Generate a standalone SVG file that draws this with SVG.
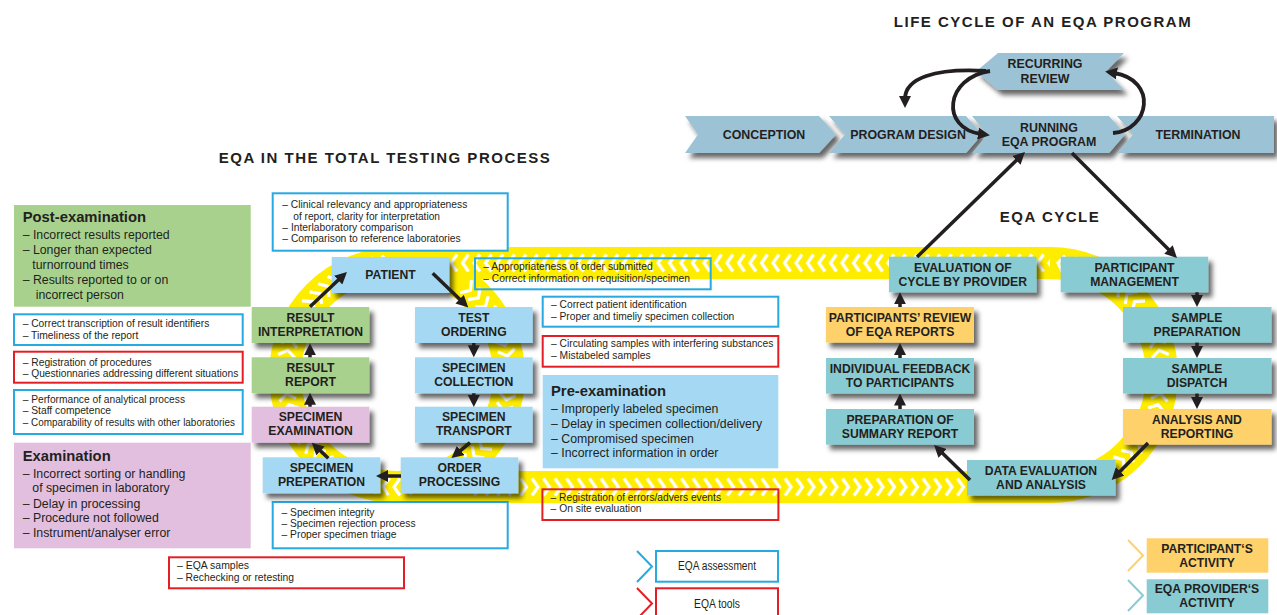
<svg xmlns="http://www.w3.org/2000/svg" width="1277" height="615" viewBox="0 0 1277 615">
<defs>
<style>
text{font-family:"Liberation Sans",Arial,sans-serif;fill:#231f20}
.t{font-weight:bold;font-size:15px;letter-spacing:1.5px;text-anchor:middle}
.l{font-weight:bold;font-size:12.2px;text-anchor:middle}
.h{font-weight:bold;font-size:14.8px}
.i{font-size:12.3px}
.n{font-size:11.4px}
.lg{font-size:12px;text-anchor:middle}
.sh{filter:url(#sh)}
.stl{fill:#9cc2d6}
.itp{fill:#a5d9f3}
.grn{fill:#a9d18e}
.pnk{fill:#e2bfdf}
.tel{fill:#89cbd3}
.org{fill:#fed16b}
.bb{fill:#fff;stroke:#27a9e1;stroke-width:2}
.rb{fill:#fff;stroke:#e31e24;stroke-width:2}
.nf{fill:none}
.ar{fill:none;stroke:#231f20;stroke-width:3.5;marker-end:url(#ah)}
.band{fill:none;stroke:#ffed00;stroke-width:32}
.chev{fill:none;stroke:none;marker-start:url(#chv);marker-mid:url(#chv);marker-end:url(#chv)}
.lgc{fill:none;stroke-width:2}
</style>
<filter id="sh" x="-10%" y="-15%" width="130%" height="160%">
<feDropShadow dx="4" dy="5" stdDeviation="2.5" flood-color="#000" flood-opacity="0.6"/>
</filter>
<marker id="ah" viewBox="0 0 12 12" markerWidth="12" markerHeight="12" markerUnits="userSpaceOnUse" refX="3" refY="6" orient="auto">
<path d="M0 0 L12 6 L0 12 z" fill="#231f20"/>
</marker>
<marker id="chv" viewBox="-6 -10 12 20" markerWidth="12" markerHeight="20" markerUnits="userSpaceOnUse" refX="0" refY="0" orient="auto">
<path d="M-3 -8.5 L3 0 L-3 8.5" fill="none" stroke="#fff" stroke-width="3.2"/>
</marker>
<pattern id="chl" x="0" y="247" width="11.5" height="32" patternUnits="userSpaceOnUse">
<path d="M8.5 7.5 L2.5 16 L8.5 24.5" fill="none" stroke="#fff" stroke-width="3.2"/>
</pattern>
<pattern id="chr" x="0" y="471" width="11.5" height="32" patternUnits="userSpaceOnUse">
<path d="M3 7.5 L9 16 L3 24.5" fill="none" stroke="#fff" stroke-width="3.2"/>
</pattern>
</defs>
<rect width="1277" height="615" fill="#fff"/>

<!-- yellow track -->
<g id="track">
<circle class="band" cx="397" cy="375" r="112"/>
<path class="band" d="M1050 263 A112 112 0 0 1 1050 487"/>
<rect x="397" y="247" width="653" height="32" fill="#ffed00"/>
<rect x="397" y="471" width="653" height="32" fill="#ffed00"/>
<rect x="450" y="247" width="600" height="32" fill="url(#chl)"/>
<rect x="470" y="471" width="580" height="32" fill="url(#chr)"/>
<polyline class="chev" points="468.05,288.42 476.2,295.8 483.58,303.95 490.13,312.77 495.77,322.2 500.48,332.14 504.17,342.49 506.85,353.15 508.46,364.02 509,375 508.46,385.98 506.85,396.85 504.17,407.51 500.48,417.86 495.77,427.8 490.13,437.23 483.58,446.05 476.2,454.2 468.05,461.58 459.23,468.13 449.8,473.77 439.86,478.48 429.51,482.17 418.85,484.85 407.98,486.46 397,487 386.02,486.46 375.15,484.85 364.49,482.17 354.14,478.48 344.2,473.77 334.77,468.13 325.95,461.58 317.8,454.2 310.42,446.05 303.87,437.23 298.23,427.8 293.52,417.86 289.83,407.51 287.15,396.85 285.54,385.98 285,375 285.54,364.02 287.15,353.15 289.83,342.49 293.52,332.14 298.23,322.2 303.87,312.77 310.42,303.95 317.8,295.8 325.95,288.42 334.77,281.87 344.2,276.23 354.14,271.52 364.49,267.83 375.15,265.15 386.02,263.54"/>
<polyline class="chev" points="1060.98,486.46 1071.85,484.85 1082.51,482.17 1092.86,478.48 1102.8,473.77 1112.23,468.13 1121.05,461.58 1129.2,454.2 1136.58,446.05 1143.13,437.23 1148.77,427.8 1153.48,417.86 1157.17,407.51 1159.85,396.85 1161.46,385.98 1162,375 1161.46,364.02 1159.85,353.15 1157.17,342.49 1153.48,332.14 1148.77,322.2 1143.13,312.77 1136.58,303.95 1129.2,295.8 1121.05,288.42 1112.23,281.87 1102.8,276.23 1092.86,271.52 1082.51,267.83 1071.85,265.15 1060.98,263.54"/>
</g>

<!-- titles -->
<text class="t" x="1043" y="27">LIFE CYCLE OF AN EQA PROGRAM</text>
<text class="t" x="385" y="163">EQA IN THE TOTAL TESTING PROCESS</text>
<text class="t" x="1050" y="222">EQA CYCLE</text>

<!-- life cycle -->
<g id="conception"><polygon class="stl sh" points="685,116 819,116 836,134.5 819,153 685,153 698,134.5"/><text class="l" style="font-size:12.4px" x="764" y="139">CONCEPTION</text></g>
<g id="program-design"><polygon class="stl sh" points="829,116 966,116 982,134.5 966,153 829,153 845,134.5"/><text class="l" style="font-size:12.4px" x="908" y="139">PROGRAM DESIGN</text></g>
<g id="running"><polygon class="stl sh" points="972,116 1109,116 1125,134.5 1109,153 972,153 987,134.5"/><text class="l" style="font-size:12.4px" x="1049" y="131.5">RUNNING</text><text class="l" style="font-size:12.4px" x="1049" y="146">EQA PROGRAM</text></g>
<g id="termination"><polygon class="stl sh" points="1117,116 1274,116 1274,153 1117,153 1133,134.5"/><text class="l" style="font-size:12.4px" x="1198" y="139">TERMINATION</text></g>
<g id="recurring-review"><polygon class="stl sh" points="998,53 1124,53 1106,71.5 1124,90 998,90 976,71.5"/><text class="l" style="font-size:12.4px" x="1045" y="68">RECURRING</text><text class="l" style="font-size:12.4px" x="1045" y="83">REVIEW</text></g>

<!-- left info -->
<g id="post-examination"><rect class="grn" x="14" y="205" width="236.7" height="101.7"/>
<text class="h" x="22.7" y="221.7">Post-examination</text>
<text class="i" x="22.7" y="239">– Incorrect results reported</text>
<text class="i" x="22.7" y="254.3">– Longer than expected</text>
<text class="i" x="32.3" y="269">turnorround times</text>
<text class="i" x="22.7" y="284">– Results reported to or on</text>
<text class="i" x="35.7" y="299">incorrect person</text></g>
<g id="assess-post"><rect class="bb" x="14" y="314.3" width="228.7" height="30.7"/>
<text class="n" x="22.7" y="327.3" textLength="186.6" lengthAdjust="spacingAndGlyphs">– Correct transcription of result identifiers</text>
<text class="n" x="22.7" y="339" textLength="115.6" lengthAdjust="spacingAndGlyphs">– Timeliness of the report</text></g>
<g id="tools-post"><rect class="rb" x="14" y="351.7" width="228.7" height="31"/>
<text class="n" x="22.7" y="365.7" textLength="129" lengthAdjust="spacingAndGlyphs">– Registration of procedures</text>
<text class="n" x="22.7" y="376.7" textLength="215.6" lengthAdjust="spacingAndGlyphs">– Questionnaries addressing different situations</text></g>
<g id="assess-exam"><rect class="bb" x="14" y="390" width="228.7" height="44"/>
<text class="n" x="22.7" y="402.7" textLength="162.3" lengthAdjust="spacingAndGlyphs">– Performance of analytical process</text>
<text class="n" x="22.7" y="414.3" textLength="88.3" lengthAdjust="spacingAndGlyphs">– Staff competence</text>
<text class="n" x="22.7" y="426" textLength="212.3" lengthAdjust="spacingAndGlyphs">– Comparability of results with other laboratories</text></g>
<g id="examination"><rect class="pnk" x="14" y="442.7" width="236.7" height="105.6"/>
<text class="h" x="22.7" y="460.7">Examination</text>
<text class="i" x="22.7" y="477.7">– Incorrect sorting or handling</text>
<text class="i" x="32.3" y="492.3">of specimen in laboratory</text>
<text class="i" x="22.7" y="507.7">– Delay in processing</text>
<text class="i" x="22.7" y="522.3">– Procedure not followed</text>
<text class="i" x="22.7" y="537.3">– Instrument/analyser error</text></g>

<!-- center info -->
<g id="assess-patient"><rect class="bb" x="272.7" y="193.3" width="235" height="57.4"/>
<text class="n" x="282.3" y="208.3" textLength="185" lengthAdjust="spacingAndGlyphs">– Clinical relevancy and appropriateness</text>
<text class="n" x="293.3" y="219.5" textLength="146.7" lengthAdjust="spacingAndGlyphs">of report, clarity for interpretation</text>
<text class="n" x="282.3" y="230.8" textLength="131" lengthAdjust="spacingAndGlyphs">– Interlaboratory comparison</text>
<text class="n" x="282.3" y="242.3" textLength="178.4" lengthAdjust="spacingAndGlyphs">– Comparison to reference laboratories</text></g>
<g id="assess-order"><rect class="bb nf" x="475" y="258.3" width="235.7" height="31"/>
<text class="n" x="483.3" y="270" textLength="169.4" lengthAdjust="spacingAndGlyphs">– Appropriateness of order submitted</text>
<text class="n" x="483.3" y="281.7" textLength="206.7" lengthAdjust="spacingAndGlyphs">– Correct information on requisition/specimen</text></g>
<g id="assess-collection"><rect class="bb" x="542.7" y="296.7" width="235.6" height="30"/>
<text class="n" x="551" y="308.3" textLength="135.7" lengthAdjust="spacingAndGlyphs">– Correct patient identification</text>
<text class="n" x="551" y="320" textLength="183.3" lengthAdjust="spacingAndGlyphs">– Proper and timeliy specimen collection</text></g>
<g id="tools-collection"><rect class="rb" x="542.7" y="336" width="235.6" height="30.7"/>
<text class="n" x="551" y="347.3" textLength="222.3" lengthAdjust="spacingAndGlyphs">– Circulating samples with interfering substances</text>
<text class="n" x="551" y="359" textLength="99.7" lengthAdjust="spacingAndGlyphs">– Mistabeled samples</text></g>
<g id="pre-examination"><rect class="itp" x="542.7" y="375" width="235.6" height="93.3"/>
<text class="h" x="551" y="396">Pre-examination</text>
<text class="i" x="551" y="413.3">– Improperly labeled specimen</text>
<text class="i" x="551" y="428.3">– Delay in specimen collection/delivery</text>
<text class="i" x="551" y="443.3">– Compromised specimen</text>
<text class="i" x="551" y="457.3">– Incorrect information in order</text></g>
<g id="tools-processing"><rect class="rb nf" x="542.4" y="489.3" width="236" height="30.7"/>
<text class="n" x="550.6" y="500.7" textLength="170.4" lengthAdjust="spacingAndGlyphs">– Registration of errors/advers events</text>
<text class="n" x="550.6" y="512.3" textLength="91" lengthAdjust="spacingAndGlyphs">– On site evaluation</text></g>
<g id="assess-preparation"><rect class="bb" x="272.7" y="502" width="235" height="46.3"/>
<text class="n" x="281.5" y="515.7" textLength="93" lengthAdjust="spacingAndGlyphs">– Specimen integrity</text>
<text class="n" x="281.5" y="526.8" textLength="134" lengthAdjust="spacingAndGlyphs">– Specimen rejection process</text>
<text class="n" x="281.5" y="538" textLength="115" lengthAdjust="spacingAndGlyphs">– Proper specimen triage</text></g>
<g id="tools-general"><rect class="rb" x="169" y="557.3" width="235" height="31"/>
<text class="n" x="177" y="569.3" textLength="72" lengthAdjust="spacingAndGlyphs">– EQA samples</text>
<text class="n" x="177" y="580.7" textLength="117" lengthAdjust="spacingAndGlyphs">– Rechecking or retesting</text></g>

<!-- ITP nodes -->
<g id="patient"><rect class="itp sh" x="331.7" y="257" width="117.6" height="36"/><text class="l" x="390.5" y="279">PATIENT</text></g>
<g id="result-interpretation"><rect class="grn sh" x="251.7" y="307" width="117.6" height="36"/><text class="l" x="310.5" y="321.7">RESULT</text><text class="l" x="310.5" y="335.7">INTERPRETATION</text></g>
<g id="result-report"><rect class="grn sh" x="251.7" y="357.3" width="117.6" height="36"/><text class="l" x="310.5" y="372">RESULT</text><text class="l" x="310.5" y="386">REPORT</text></g>
<g id="specimen-examination"><rect class="pnk sh" x="251.7" y="406.7" width="117.6" height="36"/><text class="l" x="310.5" y="421.4">SPECIMEN</text><text class="l" x="310.5" y="435.4">EXAMINATION</text></g>
<g id="specimen-preperation"><rect class="itp sh" x="262.7" y="457.3" width="117.6" height="36"/><text class="l" x="321.5" y="472">SPECIMEN</text><text class="l" x="321.5" y="486">PREPERATION</text></g>
<g id="test-ordering"><rect class="itp sh" x="415" y="307" width="117.6" height="36"/><text class="l" x="473.8" y="321.7">TEST</text><text class="l" x="473.8" y="335.7">ORDERING</text></g>
<g id="specimen-collection"><rect class="itp sh" x="415" y="357.3" width="117.6" height="36"/><text class="l" x="473.8" y="372">SPECIMEN</text><text class="l" x="473.8" y="386">COLLECTION</text></g>
<g id="specimen-transport"><rect class="itp sh" x="415" y="406.7" width="117.6" height="36"/><text class="l" x="473.8" y="421.4">SPECIMEN</text><text class="l" x="473.8" y="435.4">TRANSPORT</text></g>
<g id="order-processing"><rect class="itp sh" x="400.7" y="457.3" width="117.6" height="36"/><text class="l" x="459.5" y="472">ORDER</text><text class="l" x="459.5" y="486">PROCESSING</text></g>

<!-- EQA cycle nodes -->
<g id="evaluation"><rect class="tel sh" x="889" y="256.7" width="147.5" height="35.6"/><text class="l" x="962.8" y="271.5">EVALUATION OF</text><text class="l" x="962.8" y="286">CYCLE BY PROVIDER</text></g>
<g id="participant-management"><rect class="tel sh" x="1060.7" y="256.7" width="147.5" height="35.6"/><text class="l" x="1134.5" y="271.5">PARTICIPANT</text><text class="l" x="1134.5" y="286">MANAGEMENT</text></g>
<g id="sample-preparation"><rect class="tel sh" x="1123" y="307" width="148.5" height="35.6"/><text class="l" x="1197" y="321.7">SAMPLE</text><text class="l" x="1197" y="336">PREPARATION</text></g>
<g id="sample-dispatch"><rect class="tel sh" x="1123" y="358" width="148.5" height="35.6"/><text class="l" x="1197" y="372.7">SAMPLE</text><text class="l" x="1197" y="387">DISPATCH</text></g>
<g id="analysis-reporting"><rect class="org sh" x="1123" y="409" width="148.5" height="35.6"/><text class="l" x="1197" y="423.7">ANALYSIS AND</text><text class="l" x="1197" y="438">REPORTING</text></g>
<g id="data-evaluation"><rect class="tel sh" x="967" y="460" width="148.5" height="35.6"/><text class="l" x="1041" y="474.7">DATA EVALUATION</text><text class="l" x="1041" y="489">AND ANALYSIS</text></g>
<g id="summary-report"><rect class="tel sh" x="826" y="409" width="148" height="35.6"/><text class="l" x="900" y="423.7">PREPARATION OF</text><text class="l" x="900" y="438">SUMMARY REPORT</text></g>
<g id="individual-feedback"><rect class="tel sh" x="826" y="358" width="148" height="35.6"/><text class="l" x="900" y="372.7">INDIVIDUAL FEEDBACK</text><text class="l" x="900" y="387">TO PARTICIPANTS</text></g>
<g id="participants-review"><rect class="org sh" x="826" y="307" width="148" height="35.6"/><text class="l" x="900" y="321.7">PARTICIPANTS’ REVIEW</text><text class="l" x="900" y="336">OF EQA REPORTS</text></g>

<!-- legend -->
<g id="legend-assessment"><path class="lgc" stroke="#27a9e1" d="M637 551 L652 566.5 L637 582"/><rect class="bb" x="656" y="551" width="122" height="30.7"/><text class="lg" x="717" y="570.3" textLength="78" lengthAdjust="spacingAndGlyphs">EQA assessment</text></g>
<g id="legend-tools"><path class="lgc" stroke="#e31e24" d="M637 588 L652 603.5 L637 619"/><rect class="rb" x="656" y="588.3" width="122" height="40"/><text class="lg" x="717" y="607.6" textLength="46" lengthAdjust="spacingAndGlyphs">EQA tools</text></g>
<g id="legend-participant"><path class="lgc" stroke="#fed16b" d="M1128 540 L1143 555.5 L1128 571"/><rect class="org" x="1146.7" y="538.3" width="121.6" height="34.4"/><text class="l" x="1207" y="552.7">PARTICIPANT‘S</text><text class="l" x="1207" y="566.7">ACTIVITY</text></g>
<g id="legend-provider"><path class="lgc" stroke="#89cbd3" d="M1128 580 L1143 595.5 L1128 611"/><rect class="tel" x="1146.7" y="579.3" width="121.6" height="34"/><text class="l" x="1207" y="592.7">EQA PROVIDER‘S</text><text class="l" x="1207" y="607.3">ACTIVITY</text></g>

<!-- connectors -->
<g id="connectors">
<path class="ar" style="stroke-width:3.8" d="M986 71 C935 68 905 78 905 99"/>
<path class="ar" style="stroke-width:3.8" d="M990 71 C945 78 940 128 981 134"/>
<path class="ar" style="stroke-width:3.8" d="M1113 133 C1150 130 1158 80 1114 73"/>
<path class="ar" d="M917 257 L1018.5 158.3"/>
<path class="ar" d="M1072 153 L1170.6 251.6"/>
<path class="ar" d="M1197 292.3 L1197 298"/>
<path class="ar" d="M1197 342.6 L1197 349"/>
<path class="ar" d="M1197 393.6 L1197 400"/>
<path class="ar" d="M1148 443 L1118 473.6"/>
<path class="ar" d="M970 480 L940.5 451.3"/>
<path class="ar" d="M900 409 L900 402.5"/>
<path class="ar" d="M900 358 L900 352"/>
<path class="ar" d="M900 307 L900 301.3"/>
<path class="ar" d="M310 306.7 L340.4 278.1"/>
<path class="ar" d="M432.7 273.3 L461.8 301.3"/>
<path class="ar" d="M473.8 343 L473.8 348.3"/>
<path class="ar" d="M473.8 393.3 L473.8 398"/>
<path class="ar" d="M470 442.7 L458.4 452.3"/>
<path class="ar" d="M401 476 L385 476"/>
<path class="ar" d="M328.3 458.3 L318.3 448.9"/>
<path class="ar" d="M310 406.7 L310 401.7"/>
<path class="ar" d="M310 357.3 L310 352.3"/>
</g>
</svg>
